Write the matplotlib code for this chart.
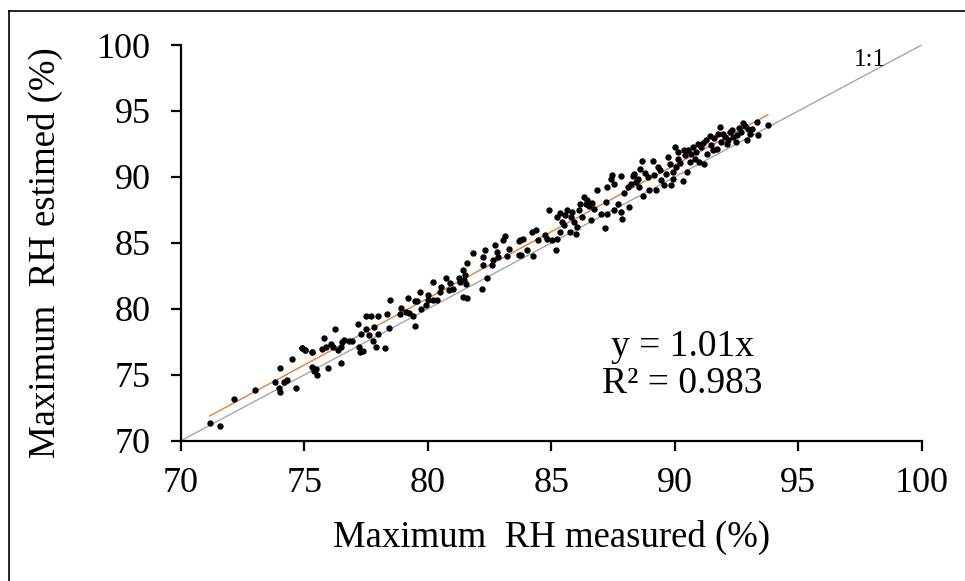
import matplotlib
matplotlib.use("Agg")
import matplotlib.pyplot as plt
from matplotlib.lines import Line2D

plt.rcParams['font.family'] = ['Liberation Serif', 'DejaVu Serif']

# RH max mesurée vs estimée (%)
rh_mesure = [
    71.17, 71.58, 72.16, 73.00, 74.02, 73.82, 73.95, 74.02, 74.16, 74.29,
    74.66, 74.50, 74.88, 75.04, 75.29, 75.31, 75.45, 75.38, 75.49, 75.96,
    76.49, 75.79, 75.72, 75.86, 76.06, 76.16, 76.22, 76.37, 76.47, 76.54,
    76.60, 76.81, 76.92, 77.15, 77.28, 77.22, 77.24, 77.38, 77.49, 77.69,
    77.97, 77.49, 77.62, 77.76, 77.90, 77.83, 77.97, 74.90, 75.04, 75.31,
    78.28, 78.41, 78.33, 78.47, 78.85, 78.92, 79.12, 79.25, 79.39, 79.46,
    79.19, 79.46, 79.55, 79.66, 79.73, 79.93, 80.00, 80.00, 80.20, 80.38,
    80.20, 80.48, 80.55, 80.72, 80.88, 80.86, 81.02, 81.26, 81.29, 81.43,
    81.50, 81.46, 81.54, 81.43, 81.59, 82.18, 81.57, 81.81, 82.22, 82.24,
    82.31, 82.38, 82.58, 82.62, 82.72, 82.79, 82.85,
    83.06, 83.13, 83.30, 83.20, 83.67, 83.74, 83.85, 83.67, 83.78, 84.01,
    84.26, 84.21, 84.39, 84.44, 84.76, 84.83, 84.89, 85.03, 85.17, 85.23,
    85.34, 85.23, 85.37, 85.44, 85.50, 85.57, 85.64, 85.75, 85.78, 85.85,
    85.98, 85.91, 86.05, 86.12, 86.18, 86.25, 86.32, 86.39, 86.46, 86.52,
    86.59, 86.66, 86.73, 86.86, 87.00, 87.18, 87.27, 87.20, 87.27, 87.41,
    87.45, 87.54, 87.52, 87.68, 87.82, 87.84, 87.88, 87.95, 88.09, 88.15,
    88.22, 88.29, 88.36, 88.43, 88.50, 88.56, 88.60, 88.66, 88.70, 88.79,
    88.90, 88.97,
    89.10, 89.15, 89.24, 89.31, 89.42, 89.45, 89.56, 89.65, 89.74, 89.79,
    89.85, 89.92, 89.92, 89.99, 90.06, 90.13, 90.15, 90.23, 90.33, 90.37,
    90.40, 90.51, 90.53, 90.60, 90.67, 90.74, 90.80, 90.87, 90.94, 91.00,
    91.08, 91.15, 91.19, 91.28, 91.32, 91.42, 91.46, 91.53, 91.60, 91.69,
    91.76, 91.83, 91.87, 91.96, 92.03, 92.10, 92.17, 92.23, 92.30, 92.37,
    92.46, 92.54, 92.60, 92.68, 92.78, 92.84, 92.91, 92.98, 93.05, 93.14,
    93.32, 93.36, 93.77,
]
rh_estime = [
    71.31, 71.14, 73.17, 73.85, 75.52, 74.43, 74.00, 73.67, 74.43, 74.61,
    73.97, 76.20, 77.00, 76.89, 76.70, 75.62, 75.44, 75.26, 75.00, 75.52,
    75.90, 77.77, 76.96, 77.08, 77.34, 77.14, 78.48, 76.89, 77.08, 77.46,
    77.65, 77.54, 77.54, 78.81, 78.10, 77.08, 76.70, 76.78, 79.42, 79.42,
    79.49, 78.48, 78.05, 77.59, 77.08, 78.60, 78.10, 77.00, 76.91, 76.76,
    77.00, 78.53, 79.57, 80.68, 79.62, 80.08, 79.74, 79.67, 79.49, 78.73,
    80.80, 80.58, 80.58, 81.26, 80.00, 80.30, 81.01, 80.63, 80.68, 80.63,
    82.02, 81.26, 81.69, 82.35, 81.94, 81.39, 81.52, 82.35, 82.02, 82.96,
    82.53, 82.20, 81.90, 80.88, 80.80, 81.52, 83.46, 84.25, 83.34, 83.92,
    84.43, 82.35, 83.29, 83.67, 84.81, 84.30, 83.92,
    85.19, 85.49, 84.56, 83.97, 85.14, 85.24, 85.32, 84.10, 84.10, 84.48,
    83.97, 85.82, 86.00, 85.24, 85.57, 85.32, 87.52, 85.19, 84.48, 85.32,
    85.82, 86.96, 87.27, 86.59, 86.33, 87.08, 87.46, 85.82, 86.96, 87.34,
    85.69, 86.59, 86.20, 87.46, 87.97, 86.96, 88.48, 87.97, 88.22, 87.77,
    86.71, 88.02, 87.59, 88.98, 87.21, 86.12, 87.21, 88.10, 89.24, 89.87,
    90.12, 89.49, 87.52, 87.97, 87.34, 90.07, 86.84, 88.78, 89.24, 87.72,
    89.49, 90.05, 90.25, 89.62, 89.87, 89.24, 90.63, 91.21, 88.53, 90.30,
    89.99, 89.03,
    91.18, 90.12, 88.98, 90.76, 90.50, 89.79, 89.36, 90.20, 91.51, 91.01,
    89.36, 89.87, 90.38, 92.28, 90.76, 91.39, 91.89, 91.06, 89.69, 92.02,
    91.64, 90.38, 92.07, 91.16, 91.77, 92.28, 91.39, 91.89, 92.53, 91.16,
    92.28, 92.58, 91.01, 92.78, 91.77, 93.08, 92.40, 92.02, 92.98, 92.15,
    93.29, 93.80, 92.68, 93.23, 93.03, 92.53, 92.83, 93.41, 93.54, 93.03,
    92.68, 93.16, 93.74, 93.41, 94.09, 93.84, 92.78, 93.67, 93.29, 93.60,
    94.17, 93.16, 93.92,
]

pente = 1.01
r2 = 0.983
borne = [70, 100]
ticks = [70, 75, 80, 85, 90, 95, 100]

fig = plt.figure(figsize=(9.65, 5.81), dpi=100)
ax = fig.add_axes([0.1876, 0.2415, 0.7675, 0.681])

# droite 1:1 et régression y = a.x
ax.plot(borne, borne, color='#a6a6a6', lw=1.0, zorder=1)
xr = [min(rh_mesure), max(rh_mesure)]
ax.plot(xr, [pente * v for v in xr], color='#ed7d31', lw=1.0, zorder=2)
ax.scatter(rh_mesure, rh_estime, s=21, color='black', linewidths=0, zorder=3)

ax.set_xlim(borne)
ax.set_ylim(borne)
ax.set_xticks(ticks)
ax.set_yticks(ticks)
for s in ['top', 'right']:
    ax.spines[s].set_visible(False)
for s in ['left', 'bottom']:
    ax.spines[s].set_linewidth(1.6)
ax.tick_params(axis='both', direction='out', length=7, width=1.6, labelsize=26)
ax.tick_params(axis='y', pad=15)
ax.tick_params(axis='x', pad=12)

ax.set_xlabel('Maximum  RH measured (%)', fontsize=26.5, labelpad=14)
fig.text(45 / 965, 1 - 253 / 581, 'Maximum  RH estimed (%)', fontsize=26.5,
         rotation=90, ha='center', va='center')

ax.text(0.952, 0.963, '1:1', transform=ax.transAxes, fontsize=18, ha='right', va='center')
ax.text(0.677, 0.238, f'y = {pente}x', transform=ax.transAxes, fontsize=27, ha='center', va='center')
ax.text(0.677, 0.143, f'R² = {r2}', transform=ax.transAxes, fontsize=27, ha='center', va='center')

# cadre
fig.add_artist(Line2D([8.5 / 965, 8.5 / 965], [0, 1 - 11 / 581], transform=fig.transFigure, color='black', lw=1.2))
fig.add_artist(Line2D([8.5 / 965, 1], [1 - 11 / 581, 1 - 11 / 581], transform=fig.transFigure, color='black', lw=1.2))

fig.savefig('out.png', dpi=100)
